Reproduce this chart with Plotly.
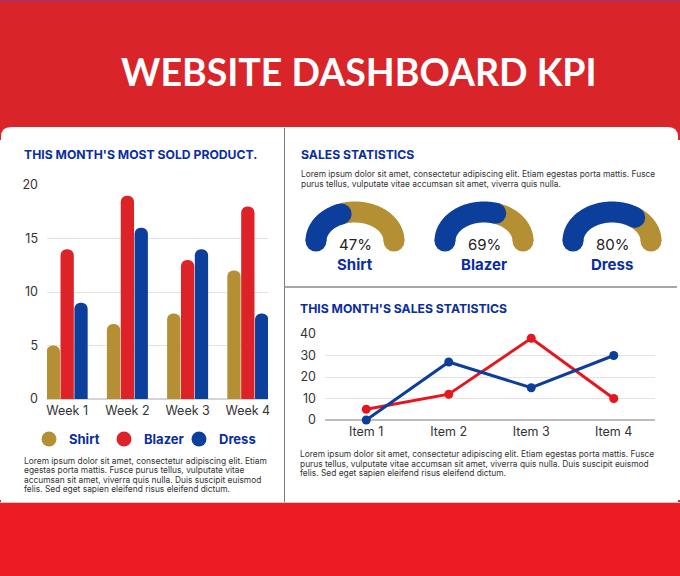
import numpy as np
import plotly.graph_objects as go

# ---------------- data ----------------
weeks = ["Week 1", "Week 2", "Week 3", "Week 4"]
shirt = [5, 7, 8, 12]
blazer = [14, 19, 13, 18]
dress = [9, 16, 14, 8]
bar_ticks = [0, 5, 10, 15, 20]

items = ["Item 1", "Item 2", "Item 3", "Item 4"]
series_red = [5, 12, 38, 10]
series_blue = [0, 27, 15, 30]
line_ticks = [0, 10, 20, 30, 40]

gauge_labels = ["Shirt", "Blazer", "Dress"]
gauge_pct = [47, 69, 80]

title_text = "WEBSITE DASHBOARD KPI"
head_left = "THIS MONTH'S MOST SOLD PRODUCT."
head_right_top = "SALES STATISTICS"
head_right_bottom = "THIS MONTH'S SALES STATISTICS"
para_left = [
    "Lorem ipsum dolor sit amet, consectetur adipiscing elit. Etiam",
    "egestas porta mattis. Fusce purus tellus, vulputate vitae",
    "accumsan sit amet, viverra quis nulla. Duis suscipit euismod",
    "felis. Sed eget sapien eleifend risus eleifend dictum.",
]
para_right_top = [
    "Lorem ipsum dolor sit amet, consectetur adipiscing elit. Etiam egestas porta mattis. Fusce",
    "purus tellus, vulputate vitae accumsan sit amet, viverra quis nulla.",
]
para_right_bottom = [
    "Lorem ipsum dolor sit amet, consectetur adipiscing elit. Etiam egestas porta mattis. Fusce",
    "purus tellus, vulputate vitae accumsan sit amet, viverra quis nulla. Duis suscipit euismod",
    "felis. Sed eget sapien eleifend risus eleifend dictum.",
]

# ---------------- style ----------------
W, H = 680, 576
GOLD = "#B48F33"
RED = "#DE2328"
BLUE = "#0C3E9C"
LRED = "#E5161D"
HBLUE = "#0A2E9E"
TXT = "#333333"
FONT = "Inter"


def dom_x(a, b):
    return [a / W, b / W]


def dom_y(top, bottom):
    return [1 - bottom / H, 1 - top / H]


fig = go.Figure()

# ---------- bar chart (x2/y2) ----------
for name, vals, col in [("Shirt", shirt, GOLD), ("Blazer", blazer, RED), ("Dress", dress, BLUE)]:
    fig.add_trace(go.Bar(x=weeks, y=vals, name=name, marker=dict(color=col, line=dict(width=0)),
                         xaxis="x2", yaxis="y2", showlegend=False, hoverinfo="skip"))
    fig.add_trace(go.Scatter(x=[None], y=[None], mode="markers", name=name,
                             marker=dict(color=col, size=15, symbol="circle"),
                             xaxis="x", yaxis="y", showlegend=True))
fig.add_trace(go.Scatter(x=[None], y=[None], mode="markers", name=" ",
                         marker=dict(color="rgba(0,0,0,0)", size=1),
                         xaxis="x", yaxis="y", showlegend=True))

# ---------- line chart (x3/y3) ----------
fig.add_trace(go.Scatter(x=items, y=series_red, mode="lines+markers",
                         line=dict(color=LRED, width=3), marker=dict(color=LRED, size=9),
                         xaxis="x3", yaxis="y3", showlegend=False, cliponaxis=False))
fig.add_trace(go.Scatter(x=items, y=series_blue, mode="lines+markers",
                         line=dict(color=BLUE, width=3), marker=dict(color=BLUE, size=9),
                         xaxis="x3", yaxis="y3", showlegend=False, cliponaxis=False))

# ---------- gauges (pixel overlay axis x/y) ----------
g_cx = [355, 484, 612]
g_cy = 241.0
g_rx, g_ry = 39.0, 29.0
g_w = 21.0


def arc_pts(cx, t0, t1, n=120):
    t = np.linspace(t0, t1, n)
    return cx + g_rx * np.cos(t), g_cy - g_ry * np.sin(t)


for cx, pct, lab in zip(g_cx, gauge_pct, gauge_labels):
    tp = np.pi * (1 - pct / 100.0)
    speed = np.sqrt((g_rx * np.sin(tp)) ** 2 + (g_ry * np.cos(tp)) ** 2)
    te = tp + (g_w / 2) / speed
    gx, gy = arc_pts(cx, te, 0.0)
    fig.add_trace(go.Scatter(x=gx, y=gy, mode="lines",
                             line=dict(color=GOLD, width=g_w, simplify=False),
                             xaxis="x", yaxis="y", showlegend=False, hoverinfo="skip"))
    fig.add_trace(go.Scatter(x=[gx[-1]], y=[gy[-1]], mode="markers",
                             marker=dict(color=GOLD, size=g_w, line=dict(width=0)),
                             xaxis="x", yaxis="y", showlegend=False, hoverinfo="skip"))
    bx, by = arc_pts(cx, np.pi, te)
    fig.add_trace(go.Scatter(x=bx, y=by, mode="lines",
                             line=dict(color=BLUE, width=g_w, simplify=False),
                             xaxis="x", yaxis="y", showlegend=False, hoverinfo="skip"))
    fig.add_trace(go.Scatter(x=[bx[0], bx[-1]], y=[by[0], by[-1]], mode="markers",
                             marker=dict(color=BLUE, size=g_w, line=dict(width=0)),
                             xaxis="x", yaxis="y", showlegend=False, hoverinfo="skip"))

annotations = []


def txt(x, y, s, size, color, weight="normal", family=FONT, xanchor="left"):
    annotations.append(dict(x=x, y=y, xref="x", yref="y", text=s, showarrow=False,
                            xanchor=xanchor, yanchor="middle", borderpad=0,
                            font=dict(family=family, size=size, color=color, weight=weight)))


for cx, pct, lab in zip(g_cx, gauge_pct, gauge_labels):
    txt(cx, 244, f"{pct}%", 15, "#222222", xanchor="center")
    txt(cx, 264, lab, 15, HBLUE, weight="bold", xanchor="center")

txt(358.5, 71, title_text, 37.5, "white", weight="bold", family="Lato", xanchor="center")
txt(23, 154, head_left, 12.2, HBLUE, weight="bold")
txt(300, 154, head_right_top, 12.2, HBLUE, weight="bold")
txt(299, 308, head_right_bottom, 12.2, HBLUE, weight="bold")
PS = 8.4
for s, y in zip(para_left, [461, 470.3, 479.7, 489]):
    txt(23, y, s, PS, TXT)
for s, y in zip(para_right_top, [174.3, 184]):
    txt(300, y, s, PS, TXT)
for s, y in zip(para_right_bottom, [454.3, 464, 473]):
    txt(299, y, s, PS, TXT)

shapes = [
    dict(type="rect", xref="x", yref="y", x0=0, x1=W, y0=0, y1=140, fillcolor="#D92429",
         line=dict(width=0), layer="below"),
    dict(type="line", xref="x", yref="y", x0=0, x1=W, y0=1, y1=1, line=dict(color="#A9306A", width=1.5),
         layer="below"),
    dict(type="rect", xref="x", yref="y", x0=0, x1=W, y0=500, y1=H, fillcolor="#ED1C24",
         line=dict(width=0), layer="below"),
    dict(type="path", xref="x", yref="y",
         path="M 1 502 L 1 137 Q 1 127 11 127 L 668 127 Q 678 127 678 137 L 678 502 Z",
         fillcolor="white", line=dict(width=0), layer="below"),
    dict(type="line", xref="x", yref="y", x0=284.5, x1=284.5, y0=128, y1=502,
         line=dict(color="#7A7A7A", width=1), layer="below"),
    dict(type="line", xref="x", yref="y", x0=284, x1=677, y0=287, y1=287,
         line=dict(color="#8A8A8A", width=1.5), layer="below"),
    dict(type="line", xref="x", yref="y", x0=0, x1=W, y0=502.5, y1=502.5,
         line=dict(color="#C9C9C9", width=1), layer="below"),
]

tickfont = dict(family=FONT, size=12.5, color=TXT)
fig.update_layout(
    autosize=True, margin=dict(l=0, r=0, t=0, b=0, pad=0, autoexpand=False),
    paper_bgcolor="white", plot_bgcolor="rgba(0,0,0,0)",
    barmode="group", bargap=0.31, bargroupgap=0.04, barcornerradius=7,
    showlegend=True,
    legend=dict(orientation="h", x=29 / W, y=1 - 439 / H, xanchor="left", yanchor="middle",
                entrywidth=30, entrywidthmode="pixels", bgcolor="rgba(0,0,0,0)",
                font=dict(family=FONT, size=13, color=HBLUE, weight="bold"),
                itemclick=False, itemdoubleclick=False),
    xaxis=dict(domain=[0, 1], range=[0, W], visible=False, fixedrange=True),
    yaxis=dict(domain=[0, 1], range=[H, 0], visible=False, fixedrange=True),
    xaxis2=dict(domain=dom_x(47, 268), anchor="y2", range=[-0.335, 3.335], showgrid=False,
                tickfont=tickfont, ticklabelstandoff=2, showline=False, zeroline=False),
    yaxis2=dict(domain=dom_y(185, 399), anchor="x2", range=[0, 20], tickvals=bar_ticks,
                gridcolor="#E2E2E2", zeroline=True, zerolinecolor="#D4D4D4", zerolinewidth=1.5,
                tickfont=tickfont, ticklabelstandoff=8, showline=False),
    xaxis3=dict(domain=dom_x(325, 655), anchor="y3", range=[-0.5, 3.5], showgrid=False,
                tickfont=tickfont, ticklabelstandoff=2, showline=False, zeroline=False),
    yaxis3=dict(domain=dom_y(334, 420), anchor="x3", range=[0, 40], tickvals=line_ticks,
                gridcolor="#E2E2E2", zeroline=True, zerolinecolor="#BDBDBD", zerolinewidth=1.5,
                tickfont=tickfont, ticklabelstandoff=8, showline=False),
    shapes=shapes,
    annotations=annotations,
)

fig.write_html("out.html", config={"displayModeBar": False},
               default_width="680px",
               default_height="576px; position:absolute; top:0; left:0")
